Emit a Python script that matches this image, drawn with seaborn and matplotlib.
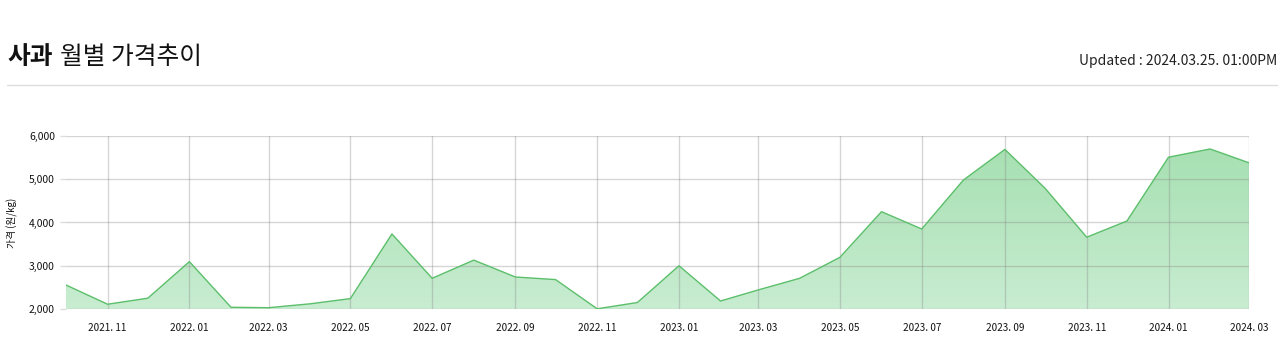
import numpy as np
import pandas as pd
import matplotlib
matplotlib.use("Agg")
import matplotlib.pyplot as plt
import matplotlib.dates as mdates
from matplotlib.lines import Line2D
from matplotlib.ticker import FuncFormatter
import seaborn as sns

# ---- data ----
start_month = "2021-10-01"
prices = [2555, 2110, 2250, 3095, 2040, 2030, 2120, 2240, 3735, 2710,
          3130, 2740, 2680, 2005, 2150, 3000, 2185, 2440, 2710, 3195,
          4250, 3850, 4980, 5690, 4790, 3660, 4035, 5510, 5700, 5380]
months = pd.date_range(start_month, periods=len(prices), freq="MS")
y_ticks = [2000, 3000, 4000, 5000, 6000]
title_bold = "사과"
title_rest = "월별 가격추이"
updated_text = "Updated : 2024.03.25. 01:00PM"
y_label = "가격 (원/kg)"

df = pd.DataFrame({"month": months, "price": prices})

sns.set_theme(style="white")
plt.rcParams["font.family"] = ["Noto Sans CJK KR", "DejaVu Sans"]

W, H = 1280, 351
fig = plt.figure(figsize=(W / 100, H / 100), dpi=100)
ax = fig.add_axes([66 / W, 1 - 309 / H, (1249 - 66) / W, (309 - 136) / H])

line_color = "#5cbf6b"
sns.lineplot(data=df, x="month", y="price", ax=ax, color=line_color,
             linewidth=1.0, zorder=3)

# gradient fill under the line
xnum = mdates.date2num(df["month"])
poly = ax.fill_between(df["month"], df["price"], 2000, color="none",
                       linewidth=0, zorder=1)
top_c = np.array([0.655, 0.878, 0.698])
bot_c = np.array([0.785, 0.928, 0.820])
n = 256
t = np.linspace(0, 1, n)[:, None]
grad = (top_c[None, :] * (1 - t) + bot_c[None, :] * t)[:, None, :]
im = ax.imshow(grad, aspect="auto", origin="upper",
               extent=[xnum[0], xnum[-1], 2000, max(prices)], zorder=1,
               interpolation="bilinear")
path = poly.get_paths()[0]
im.set_clip_path(path, transform=ax.transData)

ax.set_xlim(xnum[0], xnum[-1])
ax.set_ylim(2000, 6000)
ax.set_yticks(y_ticks)
ax.yaxis.set_major_formatter(FuncFormatter(lambda v, p: f"{int(v):,}"))

tick_dates = months[1::2]
ax.set_xticks(mdates.date2num(tick_dates))
ax.set_xticklabels([d.strftime("%Y. %m") for d in tick_dates])

ax.grid(True, color="#888888", alpha=0.35, linewidth=1.0, zorder=2)
ax.set_axisbelow(False)
for s in ax.spines.values():
    s.set_visible(False)
ax.tick_params(axis="x", length=0, pad=10, labelsize=7.2, labelcolor="#111111")
ax.tick_params(axis="y", length=4, width=1, color="#dddddd", pad=4,
               labelsize=7.5, labelcolor="#111111", left=True)
ax.set_xlabel("")
ax.set_ylabel(y_label, fontsize=7, color="#111111", labelpad=8)

# header
fig.canvas.draw()
r = fig.canvas.get_renderer()
t1 = fig.text(7 / W, 1 - 64 / H, title_bold, fontsize=17.8, fontweight="bold",
              color="#111111", va="baseline", ha="left")
bb = t1.get_window_extent(renderer=r)
fig.text((bb.x1 + 7) / W, 1 - 64 / H, title_rest, fontsize=17.8,
         color="#111111", va="baseline", ha="left")
fig.text(1277 / W, 1 - 65 / H, updated_text, fontsize=10, color="#222222",
         va="baseline", ha="right")
fig.add_artist(Line2D([7 / W, 1277 / W], [1 - 85 / H, 1 - 85 / H],
                      transform=fig.transFigure, color="#dddddd", linewidth=1))

fig.savefig("out.png", dpi=100, facecolor="white")
